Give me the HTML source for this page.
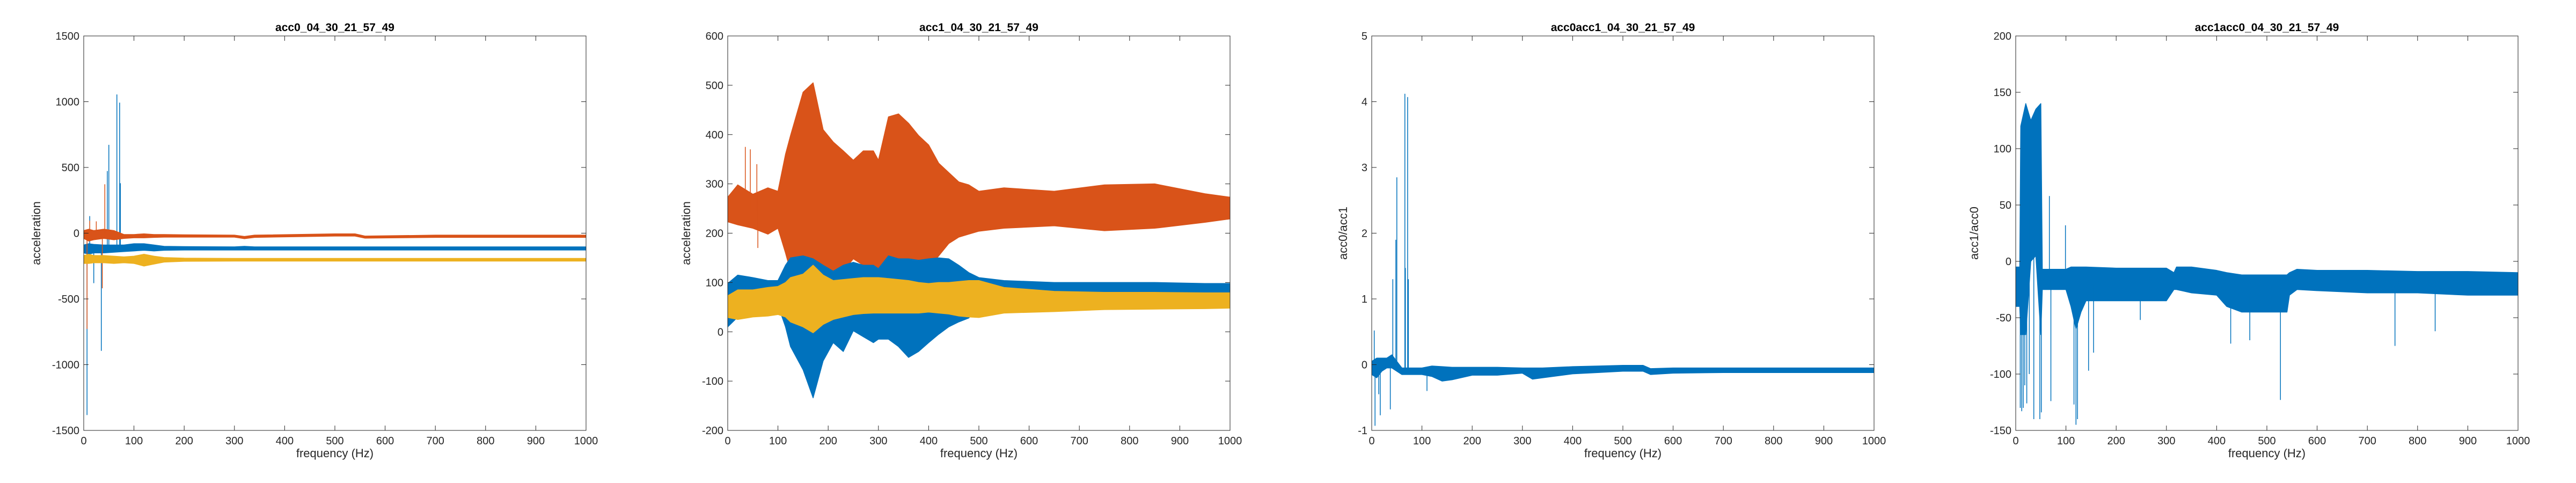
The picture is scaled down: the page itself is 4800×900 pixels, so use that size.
<!DOCTYPE html>
<html><head><meta charset="utf-8">
<style>
html,body{margin:0;padding:0;background:#fff;}
svg{display:block;}
text{font-family:"Liberation Sans",sans-serif;fill:#262626;}
</style></head>
<body>
<svg id="fig" width="4800" height="900" viewBox="0 0 4800 900" xmlns="http://www.w3.org/2000/svg"></svg>
<script>
// ---------- shared ----------
const xTicks = [0,100,200,300,400,500,600,700,800,900,1000];

// ---------- chart 1: acc0 ----------
const c1Freq   = [0,10,20,40,60,80,100,120,140,160,200,300,320,340,500,540,560,700,1000];
const c1RedHi  = [20,30,20,30,20,-10,-10,-5,-10,-10,-12,-15,-25,-15,-5,-5,-22,-15,-15];
const c1RedLo  = [-40,-60,-50,-40,-50,-40,-35,-35,-32,-30,-30,-30,-42,-32,-22,-22,-38,-32,-32];
const c1BlueHi = [-90,-80,-85,-90,-90,-90,-80,-80,-90,-100,-102,-104,-100,-104,-104,-104,-104,-104,-104];
const c1BlueLo = [-150,-160,-150,-150,-145,-140,-135,-130,-135,-130,-128,-128,-128,-128,-128,-128,-128,-128,-128];
const c1YelHi  = [-170,-160,-170,-170,-175,-180,-175,-160,-175,-185,-190,-192,-192,-192,-192,-192,-192,-192,-192];
const c1YelLo  = [-230,-230,-225,-225,-230,-225,-230,-250,-235,-220,-214,-212,-212,-212,-212,-212,-212,-212,-212];
const c1BlueSpikeF = [66,71.5,50,47,6.6,35,73,20,12];
const c1BlueSpikeV = [1055,993,672,473,-1383,-895,380,-380,130];
const c1RedSpikeF  = [42,6.6,37,12,25];
const c1RedSpikeV  = [372,-728,-419,95,90];

// ---------- chart 2: acc1 ----------
const c2Freq   = [0,20,50,80,100,115,125,150,170,190,210,230,250,270,290,300,320,340,360,380,400,420,440,460,480,500,550,650,750,850,950,1000];
const c2RedHi  = [273,298,279,292,285,360,398,486,505,410,385,367,348,367,367,348,436,442,423,398,379,342,323,304,298,285,292,285,298,300,280,273];
const c2RedLo  = [223,217,210,198,210,160,123,91,91,91,97,123,148,135,110,110,110,110,91,91,129,154,179,192,198,204,210,215,205,210,222,229];
const c2BlueHi = [98,115,110,104,104,135,150,154,148,135,123,135,141,135,135,128,154,148,148,145,148,150,148,135,120,110,104,100,100,100,98,98];
const c2BlueLo = [10,30,48,54,54,10,-30,-77,-134,-59,-22,-40,2,-10,-22,-15,-15,-30,-52,-40,-22,-5,10,20,28,54,67,70,72,72,73,73];
const c2YelHi  = [73,85,85,90,92,100,110,117,135,115,104,106,108,110,110,110,108,106,104,100,98,100,100,102,104,104,90,82,80,80,79,79];
const c2YelLo  = [29,25,30,32,35,30,20,10,-2,15,25,30,35,37,38,38,38,38,38,38,40,38,36,32,30,29,38,41,45,46,47,48];
const c2RedSpikeF = [35,45,58,60];
const c2RedSpikeV = [375,370,340,170];

// ---------- chart 3: acc0/acc1 ----------
const c3Freq = [0,10,20,30,40,50,60,80,100,120,140,160,200,250,300,320,340,400,450,500,540,555,600,700,800,1000];
const c3Hi   = [0.05,0.1,0.1,0.1,0.15,0.05,-0.05,-0.05,-0.05,-0.02,-0.03,-0.04,-0.04,-0.04,-0.05,-0.05,-0.05,-0.03,-0.02,-0.01,-0.01,-0.06,-0.05,-0.05,-0.05,-0.05];
const c3Lo   = [-0.15,-0.2,-0.1,-0.05,-0.05,-0.1,-0.15,-0.15,-0.15,-0.18,-0.25,-0.23,-0.16,-0.16,-0.13,-0.22,-0.2,-0.14,-0.12,-0.1,-0.1,-0.15,-0.13,-0.12,-0.12,-0.12];
const c3SpikeF = [66,71.5,50,48,42,73,67,6.6,5,17,37,14,110];
const c3SpikeV = [4.12,4.07,2.85,1.9,1.3,1.3,1.47,-0.93,0.52,-0.77,-0.68,-0.45,-0.4];

// ---------- chart 4: acc1/acc0 ----------
const c4Freq = [0,8,10,20,30,40,50,53,60,80,100,110,120,130,140,200,250,300,315,320,350,400,420,450,500,540,545,560,600,700,800,900,1000];
const c4Hi   = [-5,-5,120,140,125,135,140,-7,-7,-7,-7,-5,-5,-5,-5,-6,-6,-6,-10,-5,-5,-8,-10,-12,-12,-12,-10,-7,-8,-8,-9,-9,-10];
const c4Lo   = [-40,-40,-65,-65,0,5,-65,-25,-25,-25,-25,-40,-60,-45,-35,-35,-35,-35,-25,-25,-28,-30,-40,-45,-45,-45,-30,-25,-26,-28,-28,-30,-30];
const c4SpikeF = [120,116,123,12,15,18,22,36,48,51,428,466,527,755,835,99,67,70,145,155,248,9,27];
const c4SpikeV = [-145,-127,-140,-133,-130,-110,-126,-140,-140,-134,-73,-70,-123,-75,-62,32,58,-124,-97,-81,-52,-130,-100];

// ---------- layout ----------
const NS = "http://www.w3.org/2000/svg";
const svg = document.getElementById('fig');
const PL = 156, PT = 67, PW = 936, PH = 735, PANEL = 1200;
const BLUE = "#0072BD", RED = "#D95319", YEL = "#EDB120";

function mk(tag, attrs, parent){
  const e = document.createElementNS(NS, tag);
  for (const k in attrs) e.setAttribute(k, attrs[k]);
  (parent || svg).appendChild(e);
  return e;
}
function interp(xs, ys, x){
  if (x <= xs[0]) return ys[0];
  for (let i = 1; i < xs.length; i++){
    if (x <= xs[i]){ const t = (x - xs[i-1]) / (xs[i] - xs[i-1]); return ys[i-1] + t * (ys[i] - ys[i-1]); }
  }
  return ys[ys.length - 1];
}

function makeAxes(k, title, ylabel, yMin, yMax, yTicks, ylabX){
  const ox = k * PANEL;
  const g = mk('g', {});
  
  
  const sx = f => ox + PL + (f / 1000) * PW;
  const sy = v => PT + (yMax - v) / (yMax - yMin) * PH;
  const plot = mk('g', {}, g);
  
  
  const clipId = 'clip' + k;
  const cp = mk('clipPath', {id: clipId}, g);
  mk('rect', {x: ox + PL, y: PT, width: PW, height: PH}, cp);
  plot.setAttribute('clip-path', 'url(#' + clipId + ')');

  const frame = mk('rect', {x: ox + PL, y: PT, width: PW, height: PH, fill: 'none', stroke: '#262626', 'stroke-width': 1}, g);
  
  
  xTicks.forEach(t => {
    const x = sx(t);
    mk('line', {x1: x, x2: x, y1: PT + PH, y2: PT + PH - 9, stroke: '#262626'}, g);
    mk('line', {x1: x, x2: x, y1: PT, y2: PT + 9, stroke: '#262626'}, g);
    const tl = mk('text', {x: x, y: PT + PH + 26, 'font-size': 20, 'text-anchor': 'middle'}, g);
    tl.textContent = t;
    
    
  });
  yTicks.forEach(t => {
    const y = sy(t);
    mk('line', {x1: ox + PL, x2: ox + PL + 9, y1: y, y2: y, stroke: '#262626'}, g);
    mk('line', {x1: ox + PL + PW, x2: ox + PL + PW - 9, y1: y, y2: y, stroke: '#262626'}, g);
    const tl = mk('text', {x: ox + PL - 8, y: y + 7, 'font-size': 20, 'text-anchor': 'end'}, g);
    tl.textContent = t;
    
    
  });
  const tt = mk('text', {x: ox + PL + PW / 2, y: 58, 'font-size': 21, 'font-weight': 'bold', 'text-anchor': 'middle', style: 'fill:#000'}, g);
  tt.textContent = title;
  
  
  const xl = mk('text', {x: ox + PL + PW / 2, y: 852, 'font-size': 22, 'text-anchor': 'middle'}, g);
  xl.textContent = 'frequency (Hz)';
  
  
  const yl = mk('text', {x: 0, y: 0, 'font-size': 22, 'text-anchor': 'middle', transform: 'translate(' + (ox + ylabX) + ',' + (PT + PH / 2) + ') rotate(-90)'}, g);
  yl.textContent = ylabel;
  
  
  return {sx, sy, plot};
}

function band(ax, freq, hi, lo, color, name){
  let pts = [];
  for (let i = 0; i < freq.length; i++) pts.push(ax.sx(freq[i]) + ',' + ax.sy(hi[i]));
  for (let i = freq.length - 1; i >= 0; i--) pts.push(ax.sx(freq[i]) + ',' + ax.sy(lo[i]));
  const p = mk('polygon', {points: pts.join(' '), fill: color, stroke: color, 'stroke-width': 1.5, 'stroke-linejoin': 'round'}, ax.plot);
  
  
}
function spikes(ax, freq, hi, lo, sf, sv, color, name){
  for (let i = 0; i < sf.length; i++){
    const base = (interp(freq, hi, sf[i]) + interp(freq, lo, sf[i])) / 2;
    const l = mk('line', {x1: ax.sx(sf[i]), x2: ax.sx(sf[i]), y1: ax.sy(base), y2: ax.sy(sv[i]), stroke: color, 'stroke-width': 1.5}, ax.plot);
    
    
  }
}

// chart 1
const a1 = makeAxes(0, 'acc0_04_30_21_57_49', 'acceleration', -1500, 1500, [-1500,-1000,-500,0,500,1000,1500], 75);
band(a1, c1Freq, c1BlueHi, c1BlueLo, BLUE, 'series-x-band');
spikes(a1, c1Freq, c1BlueHi, c1BlueLo, c1BlueSpikeF, c1BlueSpikeV, BLUE, 'series-x-spike');
band(a1, c1Freq, c1RedHi, c1RedLo, RED, 'series-y-band');
spikes(a1, c1Freq, c1RedHi, c1RedLo, c1RedSpikeF, c1RedSpikeV, RED, 'series-y-spike');
band(a1, c1Freq, c1YelHi, c1YelLo, YEL, 'series-z-band');

// chart 2
const a2 = makeAxes(1, 'acc1_04_30_21_57_49', 'acceleration', -200, 600, [-200,-100,0,100,200,300,400,500,600], 86);
band(a2, c2Freq, c2RedHi, c2RedLo, RED, 'series-y-band');
spikes(a2, c2Freq, c2RedHi, c2RedLo, c2RedSpikeF, c2RedSpikeV, RED, 'series-y-spike');
band(a2, c2Freq, c2BlueHi, c2BlueLo, BLUE, 'series-x-band');
band(a2, c2Freq, c2YelHi, c2YelLo, YEL, 'series-z-band');

// chart 3
const a3 = makeAxes(2, 'acc0acc1_04_30_21_57_49', 'acc0/acc1', -1, 5, [-1,0,1,2,3,4,5], 110);
band(a3, c3Freq, c3Hi, c3Lo, BLUE, 'ratio-band');
spikes(a3, c3Freq, c3Hi, c3Lo, c3SpikeF, c3SpikeV, BLUE, 'ratio-spike');

// chart 4
const a4 = makeAxes(3, 'acc1acc0_04_30_21_57_49', 'acc1/acc0', -150, 200, [-150,-100,-50,0,50,100,150,200], 86);
band(a4, c4Freq, c4Hi, c4Lo, BLUE, 'ratio-band');
spikes(a4, c4Freq, c4Hi, c4Lo, c4SpikeF, c4SpikeV, BLUE, 'ratio-spike');
</script>
</body></html>
